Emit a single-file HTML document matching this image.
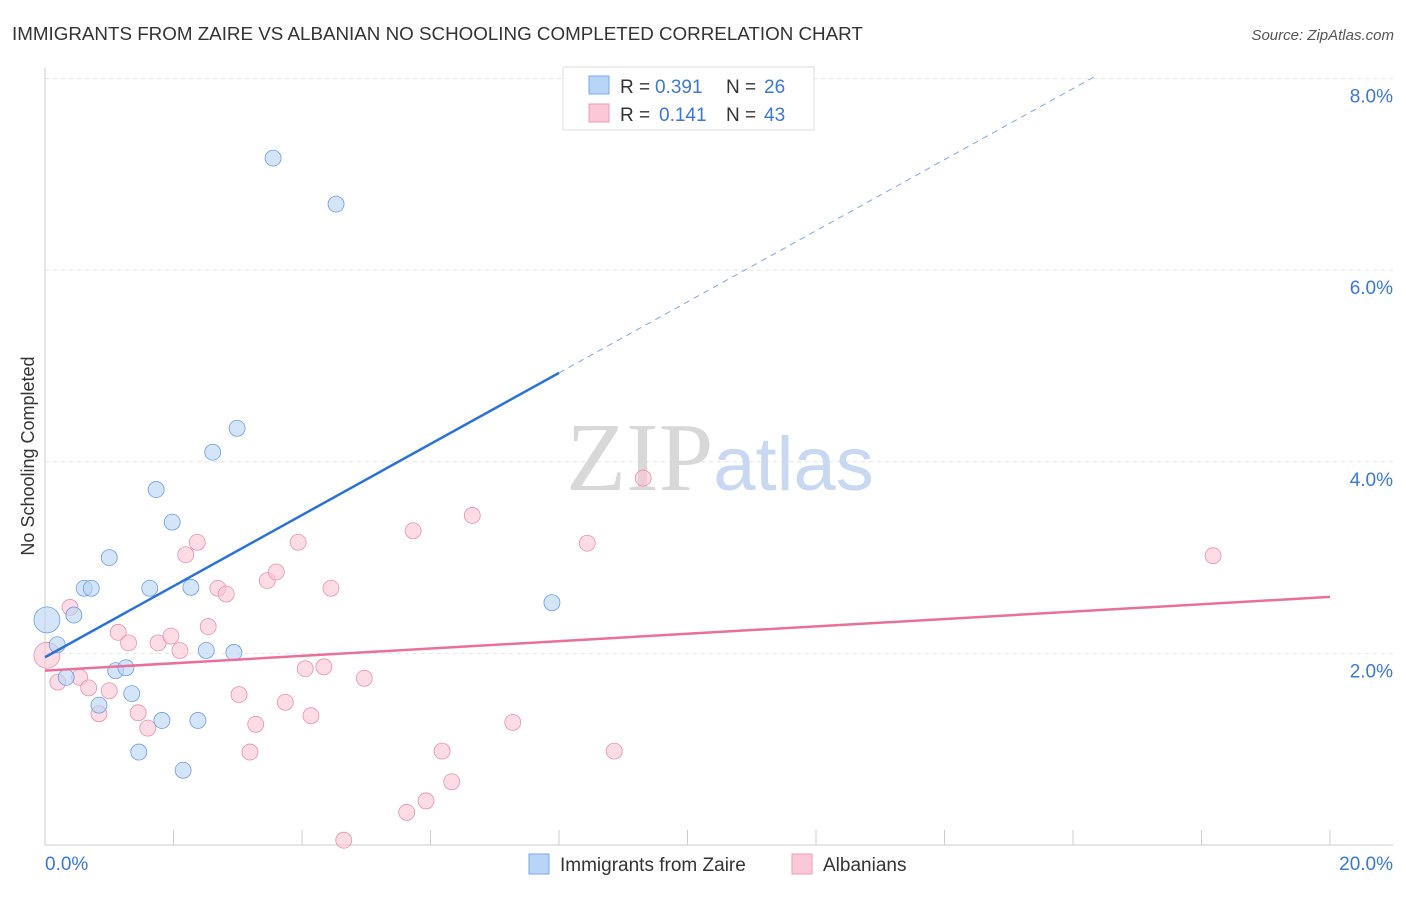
<!DOCTYPE html>
<html><head><meta charset="utf-8"><style>
body{margin:0;background:#fff;font-family:"Liberation Sans",sans-serif;}
</style></head><body>
<svg id="c" width="1406" height="892" xmlns="http://www.w3.org/2000/svg">
<text x="12" y="40" font-size="18.8" fill="#333">IMMIGRANTS FROM ZAIRE VS ALBANIAN NO SCHOOLING COMPLETED CORRELATION CHART</text>
<text x="1394" y="40" font-size="15" fill="#555" text-anchor="end" font-style="italic">Source: ZipAtlas.com</text>
<text x="34" y="456" font-size="18" fill="#333" text-anchor="middle" transform="rotate(-90 34 456)">No Schooling Completed</text>
<g id="grid"></g>
<text x="720" y="490" font-size="98" fill="#ddd" text-anchor="middle" font-family="Liberation Serif"><tspan fill="#d8d8d8">ZIP</tspan><tspan fill="#c8d8f0" font-family="Liberation Sans" font-size="76">atlas</tspan></text>
<g id="marks"></g>
<g>
<rect x="563" y="67" width="251" height="63" fill="#fff" stroke="#ddd"/>
<rect x="589" y="76" width="20" height="18" fill="#b8d4f7" stroke="#7aa8e8"/>
<rect x="589" y="104" width="20" height="18" fill="#fcc8d8" stroke="#ee9ab5"/>
<text x="620" y="93" font-size="19" fill="#333">R =</text>
<text x="655" y="93" font-size="19" fill="#3a78d8">0.391</text>
<text x="726" y="93" font-size="19" fill="#333">N =</text>
<text x="764" y="93" font-size="19" fill="#3a78d8">26</text>
<text x="620" y="121" font-size="19" fill="#333">R =</text>
<text x="659" y="121" font-size="19" fill="#3a78d8">0.141</text>
<text x="726" y="121" font-size="19" fill="#333">N =</text>
<text x="764" y="121" font-size="19" fill="#3a78d8">43</text>
</g>
<g>
<rect x="529" y="854" width="20" height="20" fill="#b8d4f7" stroke="#7aa8e8"/>
<text x="560" y="871" font-size="19" fill="#333">Immigrants from Zaire</text>
<rect x="792" y="854" width="20" height="20" fill="#fcc8d8" stroke="#ee9ab5"/>
<text x="823" y="871" font-size="19" fill="#333">Albanians</text>
</g>
</svg>
<script>
const yTicks=[2,4,6,8];
const yTickLabels=["2.0%","4.0%","6.0%","8.0%"];
const xTicks=[0,2,4,6,8,10,12,14,16,18,20];
const zaireX=[0.03,0.19,0.45,0.61,0.72,0.33,0.84,1.0,1.1,1.26,1.35,1.46,1.63,1.73,1.82,1.98,2.15,2.27,2.38,2.51,2.61,2.94,2.99,3.55,4.53,7.89];
const zaireY=[2.35,2.09,2.40,2.68,2.68,1.75,1.46,3.0,1.82,1.85,1.58,0.97,2.68,3.71,1.30,3.37,0.78,2.69,1.30,2.03,4.10,2.01,4.35,7.17,6.69,2.53];
const albX=[0.03,0.39,0.2,0.54,0.68,0.84,1.0,1.14,1.3,1.45,1.6,1.76,1.96,2.1,2.19,2.37,2.54,2.69,2.82,3.02,3.19,3.28,3.46,3.6,3.74,3.94,4.05,4.14,4.34,4.45,4.65,4.97,5.63,5.73,5.93,6.18,6.33,6.65,7.28,8.44,8.86,9.31,18.18];
const albY=[1.98,2.48,1.70,1.75,1.64,1.37,1.61,2.22,2.11,1.38,1.22,2.11,2.18,2.03,3.03,3.16,2.28,2.68,2.62,1.57,0.97,1.26,2.76,2.85,1.49,3.16,1.84,1.35,1.86,2.68,0.05,1.74,0.34,3.28,0.46,0.98,0.66,3.44,1.28,3.15,0.98,3.83,3.02];
const zaireTrend=[1.96,0.371];
const albTrend=[1.82,0.0385];
const NS="http://www.w3.org/2000/svg";
const sx=v=>45+v/20*1285, sy=v=>845-v*95.8;
function mk(t,a,p){const e=document.createElementNS(NS,t);for(const k in a)e.setAttribute(k,a[k]);p.appendChild(e);return e;}
const g=document.getElementById('grid'), m=document.getElementById('marks');
mk('line',{x1:45,y1:68,x2:45,y2:845,stroke:'#ccc'},g);
mk('line',{x1:45,y1:845,x2:1393,y2:845,stroke:'#ccc'},g);
yTicks.forEach((t,i)=>{
 const l=mk('line',{x1:45,y1:sy(t),x2:1393,y2:sy(t),stroke:'#e4e4e4','stroke-dasharray':'4,4'},g);
 
 
 const tx=mk('text',{x:1393,y:sy(t)+24,'font-size':19,fill:'#3a78d8','text-anchor':'end'},g);
 tx.textContent=yTickLabels[i];
 
 
});
xTicks.forEach(t=>{
 const l=mk('line',{x1:sx(t),y1:830,x2:sx(t),y2:845,stroke:'#ccc'},g);
 
 
});
const x0=mk('text',{x:45,y:870,'font-size':19,fill:'#3a78d8'},g);x0.textContent='0.0%';


const x1=mk('text',{x:1393,y:870,'font-size':19,fill:'#3a78d8','text-anchor':'end'},g);x1.textContent='20.0%';


function pts(X,Y,fill,stroke,name){X.forEach((x,i)=>{
 const c=mk('circle',{cx:sx(x),cy:sy(Y[i]),r:i==0?13:8,fill:fill,'fill-opacity':0.6,stroke:stroke,'stroke-width':0.8},m);
 
 
});}
pts(albX,albY,'#fbc4d4','#e890ae','albanian-point');
pts(zaireX,zaireY,'#b8d4f7','#6a9de0','zaire-point');
const f=(tr,x)=>tr[0]+tr[1]*x;
let l1=mk('line',{x1:sx(0),y1:sy(f(zaireTrend,0)),x2:sx(8),y2:sy(f(zaireTrend,8)),stroke:'#2a72d8','stroke-width':2.5},m);


const xe=(8-zaireTrend[0])/zaireTrend[1]+0.1;
let l2=mk('line',{x1:sx(8),y1:sy(f(zaireTrend,8)),x2:sx(xe),y2:sy(f(zaireTrend,xe)),stroke:'#7aa8e8','stroke-width':1,'stroke-dasharray':'6,5'},m);


let l3=mk('line',{x1:sx(0),y1:sy(f(albTrend,0)),x2:sx(20),y2:sy(f(albTrend,20)),stroke:'#e8709a','stroke-width':2.5},m);


</script>
</body></html>
